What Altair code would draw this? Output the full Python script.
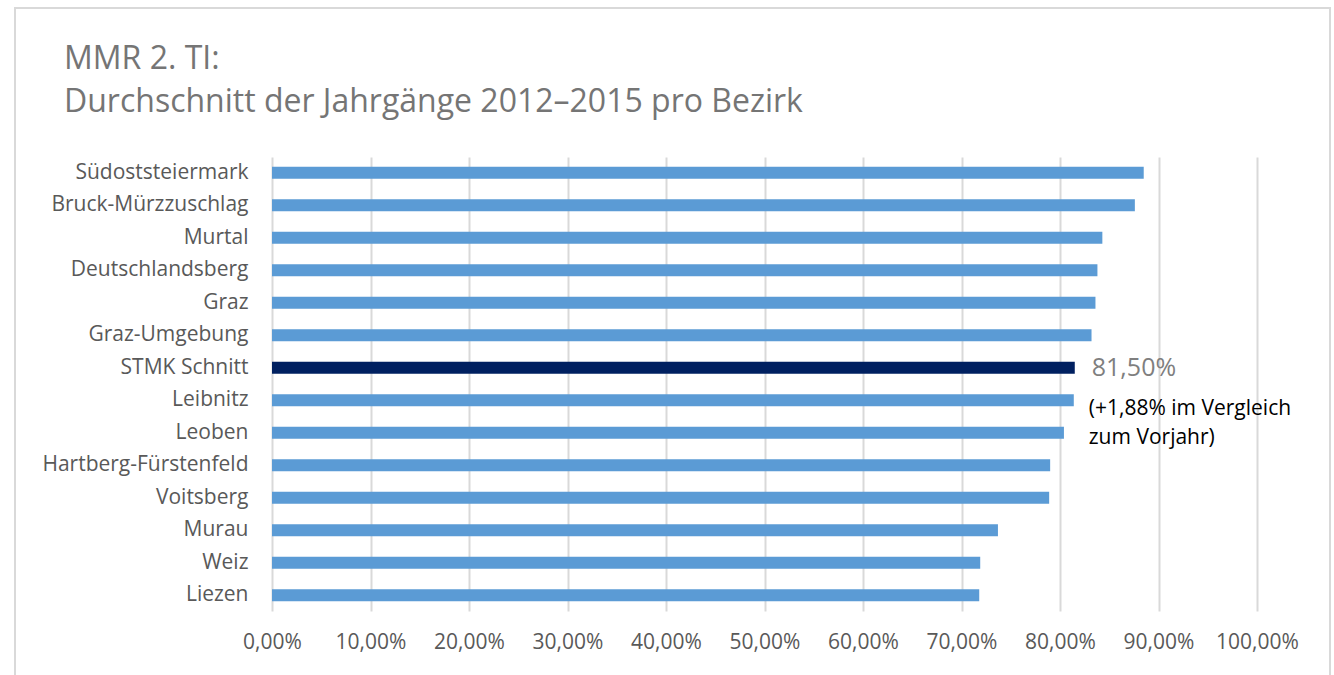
import altair as alt
import pandas as pd

# Average MMR share per district, 2012–2015
districts = [
    "Südoststeiermark", "Bruck-Mürzzuschlag", "Murtal", "Deutschlandsberg",
    "Graz", "Graz-Umgebung", "STMK Schnitt", "Leibnitz", "Leoben",
    "Hartberg-Fürstenfeld", "Voitsberg", "Murau", "Weiz", "Liezen",
]
shares = [88.5, 87.6, 84.3, 83.8, 83.6, 83.2, 81.5, 81.4, 80.4, 79.0, 78.9, 73.7, 71.9, 71.8]
highlight = "STMK Schnitt"
tick_values = [0, 10, 20, 30, 40, 50, 60, 70, 80, 90, 100]
title_lines = ["MMR 2. TI:", "Durchschnitt der Jahrgänge 2012–2015 pro Bezirk"]

df = pd.DataFrame({"Bezirk": districts, "Anteil": shares})
df["Gruppe"] = ["Schnitt" if d == highlight else "Bezirk" for d in districts]

FONT = "Open Sans"
W, H = 985, 454
LEFT, TOP = 272, 157

y_enc = alt.Y("Bezirk:N", sort=districts, title=None,
              scale=alt.Scale(paddingInner=0.63, paddingOuter=0.3),
              axis=alt.Axis(labelFont=FONT, labelFontSize=21, labelColor="#595959",
                            labelPadding=24, labelLimit=400, ticks=False, domain=False))
x_enc = alt.X("Anteil:Q", title=None,
              scale=alt.Scale(domain=[0, 100], nice=False),
              axis=alt.Axis(values=tick_values,
                            labelExpr="replace(format(datum.value, '.2f'), '.', ',') + '%'",
                            labelFont=FONT, labelFontSize=21, labelColor="#595959",
                            labelPadding=20, labelOverlap=False, labelFlush=False,
                            ticks=False, domain=False,
                            grid=True, gridColor="#d9d9d9", gridWidth=2))

bars = alt.Chart(df).mark_bar().encode(
    x=x_enc,
    y=y_enc,
    color=alt.Color("Gruppe:N", scale=alt.Scale(domain=["Bezirk", "Schnitt"],
                                                 range=["#5b9bd5", "#002060"]), legend=None),
)

hl = df[df["Bezirk"] == highlight]

value_label = alt.Chart(hl).mark_text(
    align="left", baseline="middle", dx=17, font=FONT, fontSize=25, color="#7f7f7f"
).encode(
    x="Anteil:Q", y=alt.Y("Bezirk:N", sort=districts),
    text=alt.value("81,50%"),
)

note_label = alt.Chart(hl).mark_text(
    align="left", baseline="middle", dx=14, dy=41, font=FONT, fontSize=21,
    color="#000000", lineBreak="\n", lineHeight=29,
).encode(
    x="Anteil:Q", y=alt.Y("Bezirk:N", sort=districts),
    text=alt.value("(+1,88% im Vergleich\nzum Vorjahr)"),
)

# two-line heading in the top-left corner
heading = alt.Chart(pd.DataFrame({"t": ["\n".join(title_lines)]})).mark_text(
    align="left", baseline="alphabetic", font=FONT, fontSize=32, color="#757575",
    lineBreak="\n", lineHeight=43,
).encode(
    x=alt.value(64 - LEFT), y=alt.value(69 - TOP), text="t:N",
)

# light frame around the whole figure
frame = alt.Chart(df.head(1)).mark_rect(
    fill=None, stroke="#d9d9d9", strokeWidth=2
).encode(
    x=alt.value(15 - LEFT), x2=alt.value(1330 - LEFT),
    y=alt.value(8 - TOP), y2=alt.value(700 - TOP),
)

chart = alt.layer(frame, heading, bars, value_label, note_label).properties(
    width=W, height=H,
).configure(
    autosize=alt.AutoSizeParams(type="none"),
    padding={"left": LEFT, "top": TOP, "right": 1334 - LEFT - W, "bottom": 675 - TOP - H},
    background="white",
).configure_view(stroke=None)

chart.save("out.html", embed_options={"renderer": "svg", "actions": False})
